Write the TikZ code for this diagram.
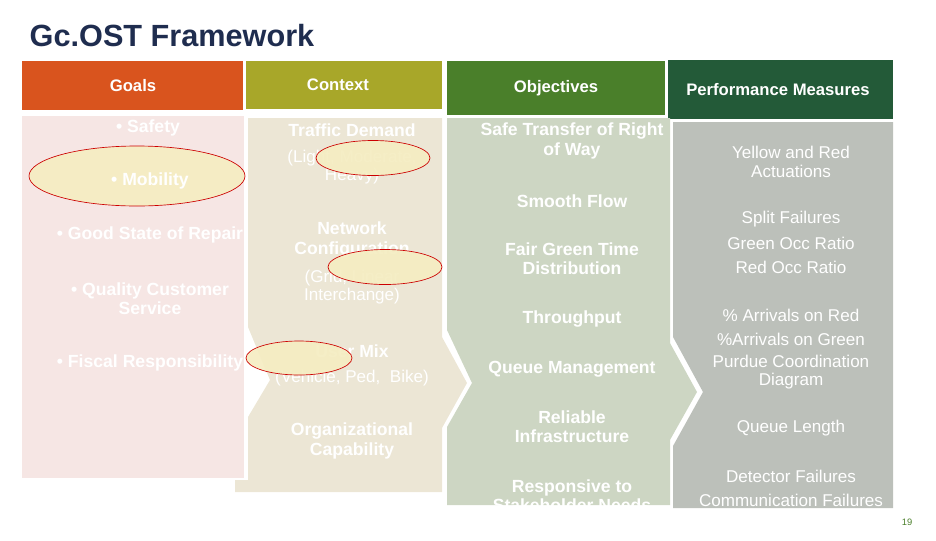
\documentclass[tikz,border=0pt]{standalone}
\usepackage{fontspec}
\setmainfont{Liberation Sans}
\begin{document}
\definecolor{cGoal}{HTML}{D9541E}
\definecolor{cCtx}{HTML}{A8A729}
\definecolor{cObj}{HTML}{4A7F2A}
\definecolor{cPerf}{HTML}{235A38}
\definecolor{bGoal}{HTML}{F6E6E4}
\definecolor{bCtx}{HTML}{ECE6D5}
\definecolor{bObj}{HTML}{CDD6C3}
\definecolor{bPerf}{HTML}{BCC0BA}
\definecolor{ell}{HTML}{F5EDC2}
\definecolor{titlec}{HTML}{1F2D4F}
\begin{tikzpicture}[x=0.75pt,y=-0.75pt,
  hd/.style={text=white,font=\fontsize{12.5}{14}\selectfont\bfseries,align=center},
  tx/.style={text=white,font=\fontsize{13.2}{14.5}\selectfont\bfseries,align=center},
  pm/.style={text=white,font=\fontsize{12.8}{14}\selectfont,align=center},
  hl/.style={draw=red!80!black,line width=0.5pt,fill=ell,fill opacity=0.92}]
\useasboundingbox (0,0) rectangle (936,540);
\node[text=titlec,font=\fontsize{23}{26}\selectfont\bfseries,anchor=west] (title) at (25,36) {Gc.OST Framework};
% headers
\fill[cGoal] (22,61) rectangle (243,110);
\fill[cCtx] (246,61) rectangle (442,109);
\fill[cObj] (447,61) rectangle (665,115);
\fill[cPerf] (668,60) rectangle (893,119);
\node[hd] (hg) at (133,86) {Goals};
\node[hd] (hc) at (338,85) {Context};
\node[hd] (ho) at (556,88) {Objectives};
\node[hd] (hp) at (778,90) {Performance Measures};
% bodies
\fill[bGoal] (22,116) rectangle (244,478);
\fill[bCtx] (248,118) -- (442,118) -- (442,337) -- (467,383) -- (442,428) -- (442,492) -- (235,492) -- (235,480) -- (248,480) -- (248,417) -- (270,380) -- (248,327) -- cycle;
\fill[bObj] (447,118) -- (670,118) -- (670,343) -- (697,392) -- (670,440) -- (670,505) -- (447,505) -- (447,427) -- (472,383) -- (447,330) -- cycle;
\fill[bPerf] (673,122) -- (893,122) -- (893,508) -- (673,508) -- (673,446) -- (703,392) -- (673,337) -- cycle;
% goals
\node[tx] (g1) at (148,128) {• Safety};
\node[tx] (g3) at (150,235) {• Good State of Repair};
\node[tx] (g4) at (150,299) {• Quality Customer\\Service};
\node[tx] (g5) at (150,363) {• Fiscal Responsibility};
% context
\node[tx] (c1) at (352,130) {Traffic Demand};
\node[pm] (c2) at (352,167) {(Light, Moderate,\\Heavy)};
\node[tx] (c3) at (352,240) {Network\\Configuration};
\node[pm] (c4) at (352,287) {(Grid, Linear\\Interchange)};
\node[tx] (c5) at (352,351) {User Mix};
\node[pm] (c6) at (352,378) {(Vehicle, Ped,\ \ Bike)};
\node[tx] (c7) at (352,441) {Organizational\\Capability};
% objectives
\node[tx] (o1) at (572,141) {Safe Transfer of Right\\of Way};
\node[tx] (o2) at (572,201) {Smooth Flow};
\node[tx] (o3) at (572,259) {Fair Green Time\\Distribution};
\node[tx] (o4) at (572,319) {Throughput};
\node[tx] (o5) at (572,369) {Queue Management};
\node[tx] (o6) at (572,427) {Reliable\\Infrastructure};
\begin{scope}
\clip (447,470) rectangle (670,505);
\node[tx] (o7) at (572,496) {Responsive to\\Stakeholder Needs};
\end{scope}
% performance
\node[pm] (p1) at (791,162) {Yellow and Red\\Actuations};
\node[pm] (p2) at (791,219) {Split Failures};
\node[pm] (p3) at (791,243) {Green Occ Ratio};
\node[pm] (p4) at (791,267) {Red Occ Ratio};
\node[pm] (p5) at (791,315) {\% Arrivals on Red};
\node[pm] (p6) at (791,339) {\%Arrivals on Green};
\node[pm] (p7) at (791,372) {Purdue Coordination\\Diagram};
\node[pm] (p8) at (791,428) {Queue Length};
\node[pm] (p9) at (791,476) {Detector Failures};
\node[pm] (p10) at (791,500) {Communication Failures};
% highlight ellipses
\draw[hl] (137,176) ellipse [x radius=108,y radius=30];
\draw[hl] (373,158) ellipse [x radius=57,y radius=17.5];
\draw[hl] (385,267) ellipse [x radius=57,y radius=17.5];
\draw[hl] (299,358) ellipse [x radius=53,y radius=17];
\node[tx] (g2) at (150,181) {• Mobility};
\node[text=cObj,font=\fontsize{7}{8}\selectfont] (pg) at (907,522) {19};
\end{tikzpicture}
\end{document}
